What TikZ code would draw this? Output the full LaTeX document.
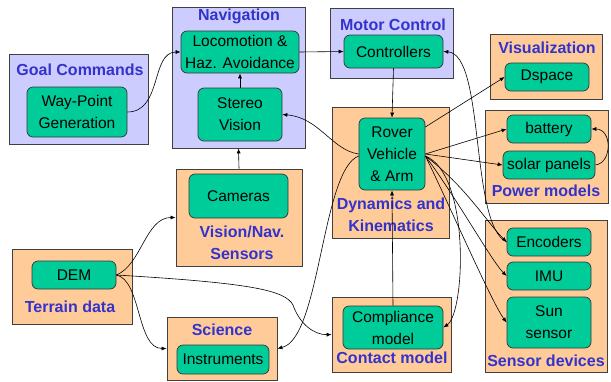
\documentclass[tikz,border=0pt]{standalone}
\usepackage{fontspec}
\setmainfont{Liberation Sans}
\usetikzlibrary{arrows.meta}
\definecolor{lav}{HTML}{CCCCFF}
\definecolor{peach}{HTML}{FFCC99}
\definecolor{teal}{HTML}{00CC99}
\definecolor{tblue}{HTML}{3333CC}
\definecolor{edge}{HTML}{404040}
\tikzset{
  outer/.style={draw=edge, line width=0.8pt, inner sep=0pt, rectangle},
  lavbox/.style={outer, fill=lav},
  pchbox/.style={outer, fill=peach},
  gbox/.style={draw=black!80, line width=0.7pt, fill=teal, rounded corners=6pt, inner sep=0pt,
    align=center, font=\fontsize{15.5}{22}\selectfont, text=black},
  ttl/.style={font=\fontsize{16}{22}\selectfont\bfseries, text=tblue, align=center, inner sep=0pt},
  conn/.style={draw=black, line width=0.6pt, -{Latex[length=5pt,width=4pt]}},
}
\begin{document}
\begin{tikzpicture}[x=1pt,y=-1pt]
\useasboundingbox (0,0) rectangle (611,381);
% outer boxes
\node[lavbox, minimum width=139, minimum height=90] (goal) at (78.5,99) {};
\node[lavbox, minimum width=133, minimum height=141] (nav) at (238.5,77.5) {};
\node[lavbox, minimum width=123, minimum height=70] (motor) at (391.5,43) {};
\node[pchbox, minimum width=112, minimum height=65] (vis) at (546,66.5) {};
\node[pchbox, minimum width=117, minimum height=131] (dyn) at (390.5,172.5) {};
\node[pchbox, minimum width=123, minimum height=93] (power) at (546.5,156.5) {};
\node[pchbox, minimum width=122, minimum height=152] (sens) at (546,296) {};
\node[pchbox, minimum width=119, minimum height=75] (contact) at (391.5,334.5) {};
\node[pchbox, minimum width=126, minimum height=97] (visnav) at (239,217.5) {};
\node[pchbox, minimum width=120, minimum height=75] (terrain) at (72,286.5) {};
\node[pchbox, minimum width=110, minimum height=63] (sci) at (222,348.5) {};
% titles
\node[ttl] (tgoal) at (80,70) {Goal Commands};
\node[ttl] (tnav) at (239,16) {Navigation};
\node[ttl] (tmotor) at (393,25) {Motor Control};
\node[ttl] (tvis) at (547,48) {Visualization};
\node[ttl] (tdyn) at (391,215) {Dynamics and\\Kinematics};
\node[ttl] (tpower) at (546,191) {Power models};
\node[ttl] (tsens) at (546,361) {Sensor devices};
\node[ttl] (tcontact) at (392,358) {Contact model};
\node[ttl] (tvisnav) at (242,242.5) {Vision/Nav.\\Sensors};
\node[ttl] (tterrain) at (70,307) {Terrain data};
\node[ttl] (tsci) at (222,330) {Science};
% inner boxes
\node[gbox, minimum width=100, minimum height=50] (wp) at (77,112) {Way-Point\\Generation};
\node[gbox, minimum width=118, minimum height=42] (loco) at (240,52) {Locomotion \&\\Haz. Avoidance};
\node[gbox, minimum width=84, minimum height=53] (stereo) at (240,114.5) {Stereo\\Vision};
\node[gbox, minimum width=99, minimum height=33] (ctrl) at (393.5,51.5) {Controllers};
\node[gbox, minimum width=84, minimum height=28] (dspace) at (547,77) {Dspace};
\node[gbox, minimum width=66, minimum height=72] (rover) at (392,154) {Rover\\Vehicle\\\& Arm};
\node[gbox, minimum width=84, minimum height=28] (batt) at (549,129) {battery};
\node[gbox, minimum width=92, minimum height=28] (solar) at (549,165) {solar panels};
\node[gbox, minimum width=84, minimum height=28] (enc) at (549,242) {Encoders};
\node[gbox, minimum width=84, minimum height=28] (imu) at (549,276) {IMU};
\node[gbox, minimum width=84, minimum height=51] (sun) at (549,322.5) {Sun\\sensor};
\node[gbox, minimum width=100, minimum height=43] (comp) at (393,327.5) {Compliance\\model};
\node[gbox, minimum width=99, minimum height=44] (cam) at (238.5,196) {Cameras};
\node[gbox, minimum width=84, minimum height=28] (dem) at (74,275) {DEM};
\node[gbox, minimum width=92, minimum height=29] (instr) at (223,359.5) {Instruments};
% connectors
\draw[conn] (wp.east) .. controls +(35,0) and +(-30,0) .. (loco.west);
\draw[conn] (stereo.north) -- (loco.south);
\draw[conn] (visnav.north) -- (nav.south);
\draw[conn] (loco.east) -- (ctrl.west);
\draw[conn] (ctrl.south) -- (rover.north);
\draw[conn] (comp.north) -- (rover.south);
\draw[conn] (rover.west) .. controls +(-27,-4) and +(37,3) .. (stereo.east);
\draw[conn] ([yshift=-2pt]rover.west) .. controls +(-37,14) and +(43,-10) .. (sci.east);
\draw[conn] ([yshift=-2pt]rover.east) .. controls +(45,18) and +(22,-15) .. (comp.east);
\draw[conn] ([yshift=27pt]rover.east) -- (dspace.west);
\draw[conn] (rover.east) -- (batt.west);
\draw[conn] (rover.east) -- (solar.west);
\draw[conn] ([yshift=-2pt]rover.east) .. controls +(40,30) and +(-20,-20) .. (enc.west);
\draw[conn] ([yshift=-2pt]rover.east) .. controls +(30,40) and +(-15,-15) .. (imu.west);
\draw[conn] ([yshift=-2pt]rover.east) .. controls +(20,40) and +(-15,-20) .. (sun.west);
\draw[conn] (enc.west) .. controls +(-37,-17) and +(42,3) .. (ctrl.east);
\draw[conn] (solar.east) .. controls +(17,-2) and +(21,0) .. (batt.east);
\draw[conn] (dem.east) .. controls +(25,-10) and +(-30,0) .. (visnav.west);
\draw[conn] (dem.east) .. controls +(25,5) and +(-30,0) .. (sci.west);
\coordinate (bendc) at (293,305);
\draw[conn] (dem.east) .. controls (250,283) and (285,290) .. (bendc) .. controls (300,325) and (315,335) .. (contact.west);
\end{tikzpicture}
\end{document}
